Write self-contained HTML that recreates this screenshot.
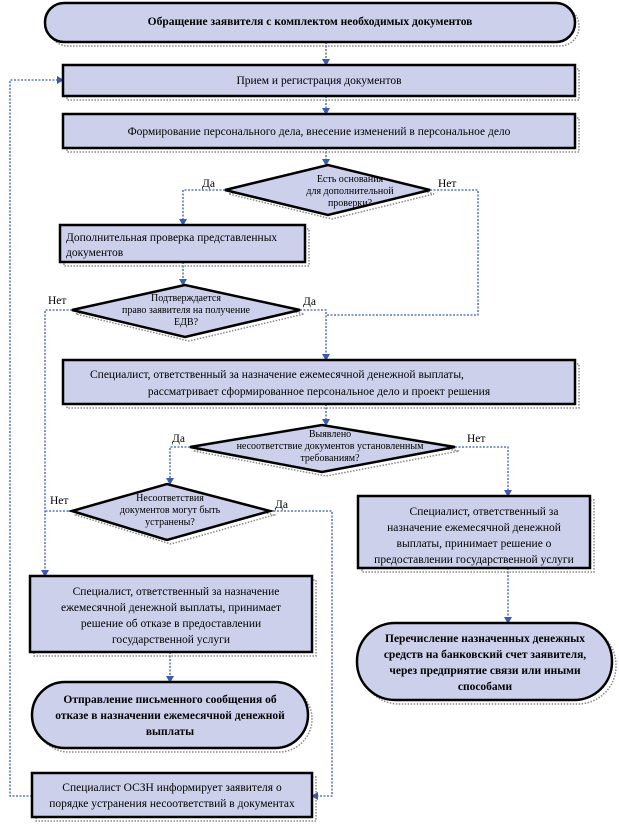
<!DOCTYPE html>
<html><head><meta charset="utf-8"><style>
html,body{margin:0;padding:0;background:#fff;}
svg{display:block;}
.b{fill:#ccd0ea;stroke:#000;stroke-width:2.5;}
.s{fill:none;stroke:#888;stroke-width:1.5;stroke-dasharray:1.5 1.5;}
.c{fill:none;stroke:#3a5cb0;stroke-width:1.3;stroke-dasharray:2 1.5;}
text{font-family:"Liberation Serif","DejaVu Serif",serif;font-size:11.5px;fill:#000;}
.bd{font-weight:bold;}
.sm{font-size:10px;}
</style></head><body>
<svg width="619" height="828" viewBox="0 0 619 828">
<defs><marker id="a" markerWidth="8" markerHeight="8" refX="6" refY="4" orient="auto" markerUnits="userSpaceOnUse"><path d="M0,0 L7,4 L0,8 z" fill="#3a5cb0"/></marker></defs>

<g class="s">
<rect x="49" y="7" width="530" height="39" rx="19"/>
<rect x="67" y="69" width="512" height="31"/>
<rect x="67" y="118" width="512" height="34"/>
<path d="M229,194 L332,169 L434,194 L332,219 Z"/>
<rect x="64" y="229" width="245" height="37"/>
<path d="M76,314 L189,289 L304,314 L189,341 Z"/>
<rect x="67" y="364" width="512" height="44"/>
<path d="M194,451 L326,429 L459,451 L326,476 Z"/>
<path d="M76,515 L171,488 L274,515 L171,544 Z"/>
<rect x="362" y="500" width="232" height="72"/>
<rect x="34" y="580" width="282" height="76"/>
<rect x="361" y="627" width="255" height="77" rx="38"/>
<rect x="36" y="686" width="276" height="66" rx="33"/>
<rect x="36" y="777" width="280" height="44"/>
</g>

<g class="c">
<path d="M326,42 V65" marker-end="url(#a)"/>
<path d="M326,96 V114" marker-end="url(#a)"/>
<path d="M326,148 V165" marker-end="url(#a)"/>
<path d="M225,190 H183 V225" marker-end="url(#a)"/>
<path d="M430,190 H478 V315 H326"/>
<path d="M183,262 V285" marker-end="url(#a)"/>
<path d="M300,310 H326 V360" marker-end="url(#a)"/>
<path d="M72,310 H45 V576" marker-end="url(#a)"/>
<path d="M326,404 V425" marker-end="url(#a)"/>
<path d="M190,447 H170 V484" marker-end="url(#a)"/>
<path d="M455,447 H508 V496" marker-end="url(#a)"/>
<path d="M508,568 V623" marker-end="url(#a)"/>
<path d="M72,511 H45"/>
<path d="M270,511 H332 V796 H312" marker-end="url(#a)"/>
<path d="M170,652 V682" marker-end="url(#a)"/>
<path d="M32,796 H10 V80 H63" marker-end="url(#a)"/>
</g>

<rect class="b" x="45" y="3" width="530" height="39" rx="19"/>
<rect class="b" x="63" y="65" width="512" height="31"/>
<rect class="b" x="63" y="114" width="512" height="34"/>
<path class="b" d="M225,190 L328,165 L430,190 L328,215 Z"/>
<rect class="b" x="60" y="225" width="245" height="37"/>
<path class="b" d="M72,310 L185,285 L300,310 L185,337 Z"/>
<rect class="b" x="63" y="360" width="512" height="44"/>
<path class="b" d="M190,447 L322,425 L455,447 L322,472 Z"/>
<path class="b" d="M72,511 L167,484 L270,511 L167,540 Z"/>
<rect class="b" x="358" y="496" width="232" height="72"/>
<rect class="b" x="30" y="576" width="282" height="76"/>
<rect class="b" x="357" y="623" width="255" height="77" rx="38"/>
<rect class="b" x="32" y="682" width="276" height="66" rx="33"/>
<rect class="b" x="32" y="773" width="280" height="44"/>

<text class="bd" x="310" y="25" text-anchor="middle">Обращение заявителя с комплектом необходимых документов</text>
<text x="319" y="84" text-anchor="middle">Прием и регистрация документов</text>
<text x="319" y="135" text-anchor="middle">Формирование персонального дела, внесение изменений в персональное дело</text>
<g text-anchor="middle">
<text x="350" y="182" class="sm">Есть основания</text>
<text x="350" y="194" class="sm">для дополнительной</text>
<text x="350" y="206" class="sm">проверки?</text>
<text x="186" y="301" class="sm">Подтверждается</text>
<text x="186" y="313" class="sm">право заявителя на получение</text>
<text x="186" y="325" class="sm">ЕДВ?</text>
<text x="330" y="437" class="sm">Выявлено</text>
<text x="330" y="449" class="sm">несоответствие документов установленным</text>
<text x="330" y="461" class="sm">требованиям?</text>
<text x="170" y="501" class="sm">Несоответствия</text>
<text x="170" y="513" class="sm">документов могут быть</text>
<text x="170" y="525" class="sm">устранены?</text>
</g>
<text x="202" y="187">Да</text>
<text x="438" y="187">Нет</text>
<text x="66" y="241">Дополнительная проверка представленных</text>
<text x="66" y="256">документов</text>
<text x="48" y="304">Нет</text>
<text x="303" y="305">Да</text>
<text x="90" y="378">Специалист, ответственный за  назначение ежемесячной денежной выплаты,</text>
<text x="319" y="395" text-anchor="middle">рассматривает сформированное персональное дело и проект решения</text>
<text x="172" y="442">Да</text>
<text x="467" y="442">Нет</text>
<text x="50" y="504">Нет</text>
<text x="275" y="508">Да</text>
<g text-anchor="middle">
<text x="484" y="515">Специалист, ответственный за</text>
<text x="474" y="531">назначение ежемесячной денежной</text>
<text x="474" y="547">выплаты, принимает   решение о</text>
<text x="474" y="563">предоставлении государственной услуги</text>
<text x="176" y="595">Специалист, ответственный за  назначение</text>
<text x="171" y="611">ежемесячной денежной выплаты, принимает</text>
<text x="171" y="627">решение об отказе в  предоставлении</text>
<text x="171" y="643">государственной услуги</text>
<text class="bd" x="485" y="642">Перечисление назначенных денежных</text>
<text class="bd" x="485" y="658">средств на банковский счет заявителя,</text>
<text class="bd" x="485" y="674">через предприятие связи или иными</text>
<text class="bd" x="485" y="690">способами</text>
<text class="bd" x="170" y="703">Отправление письменного сообщения об</text>
<text class="bd" x="170" y="719">отказе в назначении ежемесячной денежной</text>
<text class="bd" x="170" y="735">выплаты</text>
<text x="172" y="791">Специалист ОСЗН информирует заявителя о</text>
<text x="172" y="807">порядке устранения несоответствий в документах</text>
</g>
</svg>
</body></html>
